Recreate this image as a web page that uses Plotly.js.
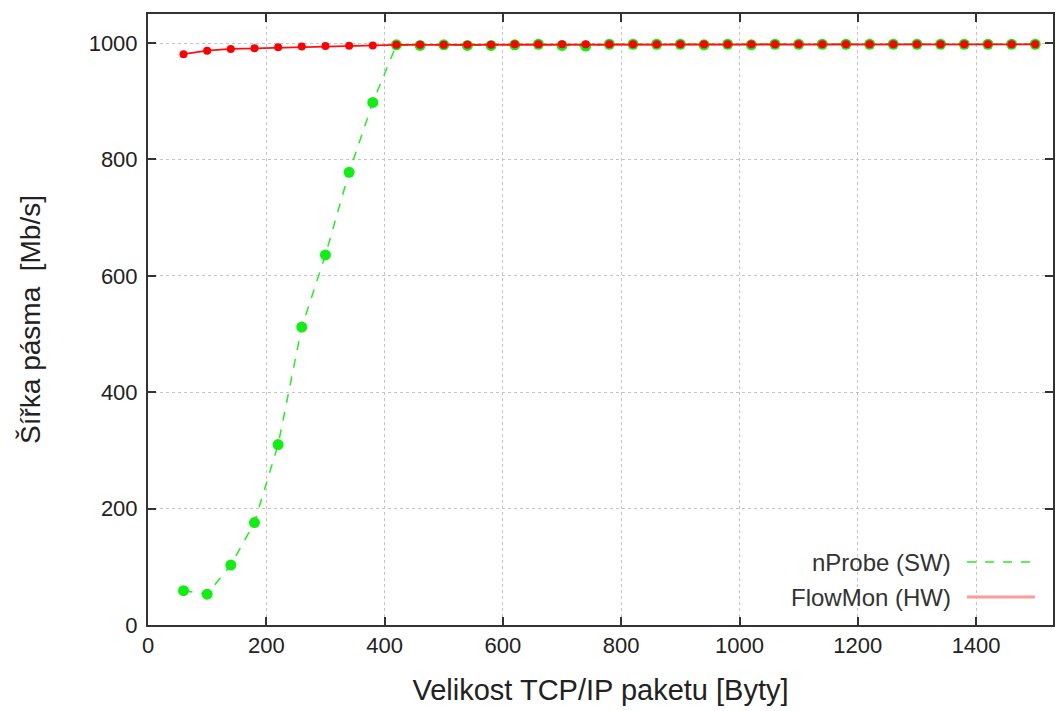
<!DOCTYPE html>
<html>
<head>
<meta charset="utf-8">
<script src="https://cdn.plot.ly/plotly-3.0.1.min.js"></script>
<style>html,body{margin:0;padding:0;background:#fff;}#chart{width:1056px;height:711px;}</style>
</head>
<body>
<div id="chart"></div>
<script>
// Packet sizes [Byty]
const packetSizes = [60,100,140,180,220,260,300,340,380,420,460,500,540,580,620,660,700,740,780,820,860,900,940,980,1020,1060,1100,1140,1180,1220,1260,1300,1340,1380,1420,1460,1500];
// nProbe (SW) bandwidth [Mb/s]
const nprobeValues = [59,53,103,176,310,512,636,778,898,997,996,997,996,996,997,998,996,995,998,998,998,998,997,998,997,998,998,998,998,998,998,998,998,998,998,998,998];
// FlowMon (HW) bandwidth [Mb/s]
const flowmonValues = [981,987,990,991,993,994,995,995.5,996,997,997,997,997,997,998,998,998,998,998,998,998,998,998,998,998,998,998,998,998,998,998,998,998,998,998,998,998];
const seriesNames = ["nProbe (SW)", "FlowMon (HW)"];
const xTitle = "Velikost TCP/IP paketu [Byty]";
const yTitle = "Šířka pásma  [Mb/s]";

const FONT = 'Liberation Sans, Arial, sans-serif';

const traces = [
  {
    x: packetSizes, y: nprobeValues, name: seriesNames[0], type: 'scatter', mode: 'lines+markers',
    line: {color: '#22ee22', width: 1.5, dash: 'dash'},
    marker: {color: '#11ee11', size: 11, symbol: 'circle'},
    showlegend: false
  },
  {
    x: packetSizes, y: flowmonValues, name: seriesNames[1], type: 'scatter', mode: 'lines+markers',
    line: {color: '#ff1010', width: 1.8},
    marker: {color: '#ff0000', size: 8, symbol: 'circle'},
    showlegend: false
  }
];

const axisCommon = {
  showline: true, linecolor: '#333', linewidth: 2, mirror: 'allticks',
  ticks: 'inside', ticklen: 8, tickwidth: 2, tickcolor: '#333',
  showgrid: true, gridcolor: '#c4c4c4', gridwidth: 1, griddash: 'dot',
  zeroline: false,
  tickfont: {family: FONT, size: 22, color: '#222'}
};

const layout = {
  width: 1056, height: 711,
  paper_bgcolor: '#fff', plot_bgcolor: '#fff',
  margin: {l: 148, r: 3, t: 14, b: 86},
  xaxis: Object.assign({}, axisCommon, {
    range: [0, 1530], tickvals: [0,200,400,600,800,1000,1200,1400],
    title: {text: xTitle, font: {family: FONT, size: 29, color: '#222'}, standoff: 22}
  }),
  yaxis: Object.assign({}, axisCommon, {
    range: [0, 1050], tickvals: [0,200,400,600,800,1000], ticklabelstandoff: 4,
    title: {text: yTitle, font: {family: FONT, size: 28, color: '#222'}, standoff: 40}
  }),
  annotations: [
    {xref: 'paper', yref: 'paper', x: 0.8895, y: 0.103, xanchor: 'right', yanchor: 'middle', text: seriesNames[0], showarrow: false,
     font: {family: FONT, size: 24, color: '#333'}},
    {xref: 'paper', yref: 'paper', x: 0.8895, y: 0.0458, xanchor: 'right', yanchor: 'middle', text: seriesNames[1], showarrow: false,
     font: {family: FONT, size: 24, color: '#333'}}
  ],
  shapes: [
    {type: 'line', xref: 'paper', yref: 'paper', x0: 0.905, x1: 0.98, y0: 0.103, y1: 0.103, line: {color: '#22ee22', width: 1.5, dash: 'dash'}},
    {type: 'line', xref: 'paper', yref: 'paper', x0: 0.905, x1: 0.98, y0: 0.0458, y1: 0.0458, line: {color: '#ff9a9a', width: 3}}
  ]
};

Plotly.newPlot('chart', traces, layout, {displayModeBar: false, staticPlot: true});
</script>
</body>
</html>
